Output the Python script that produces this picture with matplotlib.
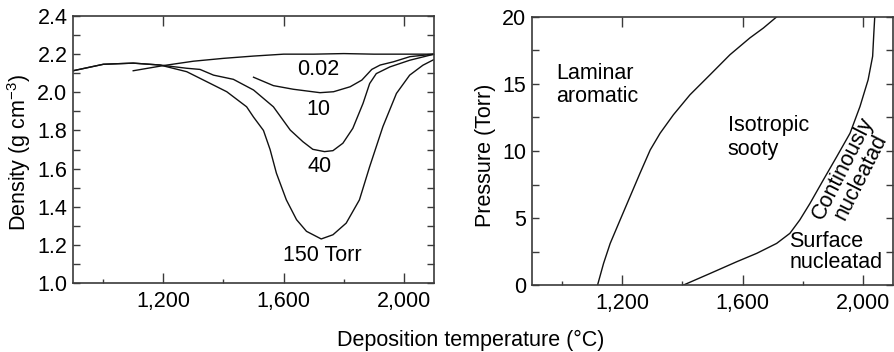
"""
Pyrolytic carbon deposition: density vs deposition temperature at several
pressures, and the pressure/temperature structure map.
"""

import matplotlib
matplotlib.use('Agg')
import matplotlib.pyplot as plt
from matplotlib.ticker import MultipleLocator, FormatStrFormatter

plt.rcParams['font.family'] = ['Liberation Sans', 'DejaVu Sans']
plt.rcParams['mathtext.fontset'] = 'custom'
plt.rcParams['mathtext.rm'] = 'Liberation Sans'
plt.rcParams['mathtext.it'] = 'Liberation Sans:italic'

FS = 15.5
INK = '#111111'
SPINE = '#3a3a3a'

# density curves (temperature in degC, density in g/cm3)
t_002 = [1100, 1200, 1300, 1400, 1500, 1600, 1700, 1800, 1900, 2000, 2100]
d_002 = [2.113, 2.14, 2.163, 2.178, 2.19, 2.20, 2.20, 2.203, 2.20, 2.20, 2.20]

t_10 = [1500, 1566, 1632, 1721, 1766, 1821, 1860, 1893, 1921, 1965, 2020, 2100]
d_10 = [2.079, 2.035, 2.016, 1.998, 2.003, 2.029, 2.064, 2.12, 2.143, 2.16, 2.187, 2.20]

t_40 = [900, 1001, 1100, 1189, 1278, 1322, 1367, 1433, 1500, 1566, 1622, 1664,
        1697, 1736, 1764, 1797, 1830, 1864, 1886, 1908, 1953, 2019, 2100]
d_40 = [2.113, 2.147, 2.153, 2.143, 2.126, 2.12, 2.09, 2.068, 2.012, 1.924, 1.802, 1.741,
        1.701, 1.689, 1.694, 1.733, 1.811, 1.942, 2.046, 2.098, 2.133, 2.168, 2.20]

t_150 = [900, 1001, 1100, 1189, 1278, 1344, 1411, 1477, 1500, 1533, 1555, 1576, 1609,
         1643, 1676, 1725, 1764, 1808, 1852, 1886, 1930, 1975, 2019, 2063, 2100]
d_150 = [2.113, 2.147, 2.153, 2.143, 2.108, 2.056, 2.003, 1.924, 1.87, 1.80, 1.70, 1.576, 1.436,
         1.332, 1.271, 1.231, 1.253, 1.314, 1.436, 1.61, 1.82, 1.994, 2.09, 2.142, 2.172]

density_labels = ['0.02', '10', '40', '150 Torr']
density_label_t = [1714, 1714, 1720, 1729]
density_label_d = [2.121, 1.912, 1.61, 1.143]

# structure map boundaries (temperature in degC, pressure in Torr)
t_lam = [1118, 1138, 1160, 1193, 1226, 1259, 1293, 1326, 1370, 1425, 1492, 1558, 1624, 1669, 1713]
p_lam = [0.0, 1.62, 3.11, 4.86, 6.6, 8.34, 10.08, 11.33, 12.7, 14.19, 15.69, 17.18, 18.43, 19.17, 20.0]

t_surf = [1403, 1492, 1580, 1647, 1713, 1757, 1790, 1824, 1868, 1913, 1957, 1990, 2017, 2032, 2036, 2039]
p_surf = [0.0, 0.87, 1.74, 2.37, 3.11, 3.86, 4.86, 6.1, 7.84, 9.59, 11.33, 13.32, 15.31, 17.06, 18.8, 20.0]


def style_axes(ax, ymajor, yminor):
    ax.set_xlim(900, 2100)
    ax.xaxis.set_minor_locator(MultipleLocator(200))
    ax.set_xticks([1200, 1600, 2000])
    ax.set_xticklabels(['1,200', '1,600', '2,000'])
    ax.yaxis.set_major_locator(MultipleLocator(ymajor))
    ax.yaxis.set_minor_locator(MultipleLocator(yminor))
    ax.tick_params(axis='x', which='major', direction='in', length=7.5, width=1.0,
                   top=True, labelsize=FS, pad=6, color=SPINE)
    ax.tick_params(axis='x', which='minor', direction='in', length=3, width=1.0,
                   top=False, bottom=True, color=SPINE)
    ax.tick_params(axis='y', which='both', direction='in', length=5, width=1.0,
                   right=True, labelsize=FS, pad=4, color=SPINE)
    for s in ax.spines.values():
        s.set_linewidth(1.2)
        s.set_color(SPINE)


fig = plt.figure(figsize=(8.94, 3.52), dpi=100)
ax1 = fig.add_axes([0.0817, 0.196, 0.4038, 0.7585])
ax2 = fig.add_axes([0.595, 0.19, 0.404, 0.762])

# left: density
for t, d in [(t_002, d_002), (t_10, d_10), (t_40, d_40), (t_150, d_150)]:
    ax1.plot(t, d, color=INK, lw=1.0)
for lab, t, d in zip(density_labels, density_label_t, density_label_d):
    ax1.text(t, d, lab, ha='center', va='center', fontsize=FS)
ax1.set_ylim(1.0, 2.4)
style_axes(ax1, 0.2, 0.1)
ax1.yaxis.set_major_formatter(FormatStrFormatter('%.1f'))

# right: pressure / temperature regions
ax2.plot(t_lam, p_lam, color=INK, lw=1.0)
ax2.plot(t_surf, p_surf, color=INK, lw=1.0)
ax2.set_ylim(0, 20)
style_axes(ax2, 5, 2.5)
ax2.text(981, 14.9, 'Laminar\naromatic', ha='left', va='center', fontsize=FS, linespacing=1.15)
ax2.text(1550, 11.0, 'Isotropic\nsooty', ha='left', va='center', fontsize=FS, linespacing=1.15)
ax2.text(1755, 2.5, 'Surface\nnucleatad', ha='left', va='center', fontsize=FS, linespacing=1.0)
ax2.text(1962, 8.4, 'Continously\nnucleatad', ha='center', va='center', fontsize=FS,
         rotation=63, rotation_mode='anchor', linespacing=0.95)

fig.text(19 / 894, 1 - 152 / 352, 'Density (g cm$^{-3}$)', rotation=90,
         ha='center', va='center', fontsize=FS)
fig.text(486 / 894, 1 - 155 / 352, 'Pressure (Torr)', rotation=90,
         ha='center', va='center', fontsize=FS)
fig.text(471 / 894, 1 - 340 / 352, 'Deposition temperature (\u00b0C)',
         ha='center', va='center', fontsize=FS)

fig.savefig('out.png', dpi=100)
plt.close(fig)
